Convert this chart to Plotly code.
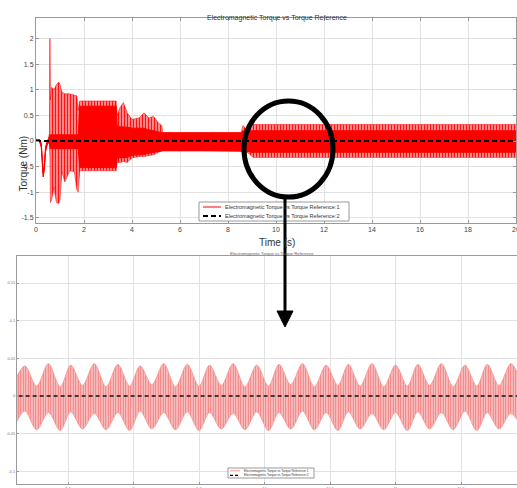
import plotly.graph_objects as go

W, H = 517, 488
def PX(x): return x / W
def PY(y): return 1 - y / H

# ---------------- data ----------------
# top panel: envelope of the electromagnetic torque signal (Nm) vs time (s)
top_t = [0.00, 0.15, 0.22, 0.27, 0.30, 0.34, 0.40, 0.46, 0.52, 0.56, 0.58, 0.60,
         0.65, 0.75, 0.85, 0.95, 1.00, 1.08, 1.20, 1.40, 1.60, 1.70, 1.76, 1.82,
         1.86, 2.50, 3.00, 3.34, 3.38, 3.50, 3.64, 3.80, 4.00, 4.30, 4.50, 4.70,
         4.90, 5.10, 5.24, 5.28, 7.00, 8.55, 8.62, 8.80, 8.95, 9.05, 14.0, 20.0]
top_upper = [0.03, 0.03, -0.05, -0.45, -0.62, -0.50, -0.12, -0.02, 0.05, 0.15, 2.00, 0.80,
             1.05, 1.00, 1.10, 1.15, 1.10, 0.95, 0.92, 0.92, 0.90, 0.88, 0.60, 0.78,
             0.78, 0.78, 0.78, 0.78, 0.50, 0.65, 0.75, 0.55, 0.42, 0.45, 0.55, 0.45,
             0.48, 0.35, 0.30, 0.16, 0.16, 0.16, 0.30, 0.22, 0.30, 0.32, 0.32, 0.32]
top_lower = [-0.01, -0.01, -0.12, -0.55, -0.70, -0.58, -0.20, -0.08, -0.03, -0.05, -0.30, -1.20,
             -1.15, -0.90, -1.20, -1.22, -1.15, -0.60, -0.80, -0.58, -0.60, -0.95, -1.00, -0.60,
             -0.58, -0.58, -0.58, -0.58, -0.42, -0.42, -0.40, -0.42, -0.33, -0.30, -0.30, -0.28,
             -0.27, -0.22, -0.20, -0.19, -0.19, -0.19, -0.25, -0.22, -0.28, -0.32, -0.32, -0.32]
core_upper = [0.03, 0.03, -0.05, -0.45, -0.62, -0.50, -0.12, -0.02, 0.05, 0.10, 0.12, 0.12,
              0.12, 0.12, 0.12, 0.12, 0.12, 0.12, 0.12, 0.12, 0.12, 0.12, 0.12, 0.65,
              0.68, 0.68, 0.68, 0.68, 0.28, 0.28, 0.28, 0.27, 0.25, 0.25, 0.25, 0.22,
              0.20, 0.18, 0.16, 0.16, 0.16, 0.16, 0.20, 0.18, 0.20, 0.20, 0.20, 0.20]
core_lower = [-0.01, -0.01, -0.12, -0.55, -0.70, -0.58, -0.20, -0.08, -0.03, -0.05, -0.15, -0.15,
              -0.15, -0.15, -0.15, -0.15, -0.15, -0.15, -0.15, -0.15, -0.15, -0.15, -0.15, -0.50,
              -0.52, -0.52, -0.52, -0.52, -0.33, -0.33, -0.33, -0.32, -0.28, -0.27, -0.26, -0.24,
              -0.22, -0.20, -0.19, -0.19, -0.19, -0.19, -0.20, -0.20, -0.22, -0.22, -0.22, -0.22]

# torque reference
ref_t = [0, 20]
ref_torque = [0, 0]

# bottom panel (zoom 8.1 s - 11.9 s): envelope of the torque ripple lobes
bot_t = [8.08, 8.17, 8.26, 8.35, 8.44, 8.52, 8.61, 8.70, 8.79, 8.88, 8.97, 9.05,
         9.14, 9.23, 9.32, 9.41, 9.50, 9.58, 9.67, 9.76, 9.85, 9.94, 10.03, 10.11,
         10.20, 10.29, 10.38, 10.47, 10.56, 10.64, 10.73, 10.82, 10.91, 11.00, 11.09, 11.17,
         11.26, 11.35, 11.44, 11.53, 11.62, 11.70, 11.79, 11.88, 11.97]
bot_upper = [0.015, 0.040, 0.013, 0.043, 0.012, 0.041, 0.014, 0.043, 0.012, 0.042, 0.013, 0.040,
             0.015, 0.043, 0.012, 0.042, 0.013, 0.041, 0.014, 0.043, 0.012, 0.041, 0.013, 0.042,
             0.015, 0.043, 0.012, 0.041, 0.014, 0.042, 0.013, 0.043, 0.012, 0.041, 0.013, 0.042,
             0.014, 0.043, 0.012, 0.041, 0.013, 0.042, 0.014, 0.043, 0.013]
bot_lower = [-0.044, -0.020, -0.045, -0.022, -0.046, -0.021, -0.044, -0.023, -0.045, -0.022, -0.046, -0.020,
             -0.044, -0.022, -0.045, -0.021, -0.046, -0.022, -0.044, -0.023, -0.045, -0.021, -0.046, -0.022,
             -0.044, -0.020, -0.045, -0.022, -0.046, -0.021, -0.044, -0.023, -0.045, -0.022, -0.046, -0.021,
             -0.044, -0.022, -0.045, -0.020, -0.046, -0.022, -0.044, -0.023, -0.045]

top_xticks = [0, 2, 4, 6, 8, 10, 12, 14, 16, 18, 20]
top_yticks = [-1.5, -1, -0.5, 0, 0.5, 1, 1.5, 2]
top_yticktext = ["-1.5", "-1", "-0.5", "0", "0.5", "1", "1.5", "2"]
bot_xticks = [8.5, 9, 9.5, 10, 10.5, 11, 11.5]
bot_xticktext = ["8.5", "9", "9.5", "10", "10.5", "11", "11.5"]
bot_yticks = [-0.1, -0.05, 0, 0.05, 0.1, 0.15]
bot_yticktext = ["-0.1", "-0.05", "0", "0.05", "0.1", "0.15"]

title_text = "Electromagnetic Torque vs Torque Reference"
legend_names = ["Electromagnetic Torque vs Torque Reference:1",
                "Electromagnetic Torque vs Torque Reference:2"]

FONT = "Liberation Sans, Arial, sans-serif"

fig = go.Figure()

# ---- top panel ----
fig.add_trace(go.Scatter(x=top_t, y=top_lower, mode="lines", line=dict(color="rgba(255,0,0,0.6)", width=0.8),
                         showlegend=False, hoverinfo="skip", xaxis="x", yaxis="y"))
fig.add_trace(go.Scatter(x=top_t, y=top_upper, mode="lines", line=dict(color="rgba(255,0,0,0.7)", width=0.8),
                         fill="tonexty",
                         fillpattern=dict(shape="|", fgcolor="rgba(255,0,0,0.9)", bgcolor="rgba(255,120,120,0.6)",
                                          size=3, solidity=0.5, fillmode="replace"),
                         showlegend=False, hoverinfo="skip", xaxis="x", yaxis="y"))
fig.add_trace(go.Scatter(x=top_t, y=core_lower, mode="lines", line=dict(color="#ff0000", width=1),
                         showlegend=False, hoverinfo="skip", xaxis="x", yaxis="y"))
fig.add_trace(go.Scatter(x=top_t, y=core_upper, mode="lines", line=dict(color="#ff0000", width=1),
                         fill="tonexty", fillcolor="#ff0000",
                         showlegend=False, hoverinfo="skip", xaxis="x", yaxis="y"))
fig.add_trace(go.Scatter(x=ref_t, y=ref_torque, mode="lines", line=dict(color="black", width=2, dash="5px,3px"),
                         showlegend=False, hoverinfo="skip", xaxis="x", yaxis="y"))

# ---- bottom panel ----
fig.add_trace(go.Scatter(x=bot_t, y=bot_lower, mode="lines", line=dict(color="#f49494", width=0.8, shape="spline", smoothing=0.9),
                         showlegend=False, hoverinfo="skip", xaxis="x2", yaxis="y2"))
fig.add_trace(go.Scatter(x=bot_t, y=bot_upper, mode="lines", line=dict(color="#f49494", width=0.8, shape="spline", smoothing=0.9),
                         fill="tonexty",
                         fillpattern=dict(shape="|", fgcolor="#f07878", bgcolor="#fbcaca",
                                          size=2.5, solidity=0.45, fillmode="replace"),
                         showlegend=False, hoverinfo="skip", xaxis="x2", yaxis="y2"))
fig.add_trace(go.Scatter(x=ref_t, y=ref_torque, mode="lines", line=dict(color="#111", width=1.5, dash="4px,3px"),
                         showlegend=False, hoverinfo="skip", xaxis="x2", yaxis="y2"))

axis_common = dict(showline=True, linecolor="#9a9a9a", linewidth=1, showgrid=True, gridcolor="#e2e2e2",
                   gridwidth=1, zeroline=False, ticks="inside", tickcolor="#9a9a9a", automargin=False,
                   ticklabeloverflow="allow")

fig.update_layout(
    width=W, height=H, margin=dict(l=0, r=0, t=0, b=0, pad=0, autoexpand=False),
    paper_bgcolor="white", plot_bgcolor="white", showlegend=False,
    font=dict(family=FONT, color="#444"),
    xaxis=dict(domain=[PX(36), PX(516)], range=[0, 20], tickvals=top_xticks, ticklen=3,
               mirror="ticks", anchor="y", tickfont=dict(size=7, color="#444"), **axis_common),
    yaxis=dict(domain=[PY(223), PY(18)], range=[-1.6, 2.4], tickvals=top_yticks, ticktext=top_yticktext,
               ticklen=3, mirror="ticks", anchor="x", tickfont=dict(size=7, color="#444"), **axis_common),
    xaxis2=dict(domain=[PX(17), 1.0], range=[8.11, 11.927], tickvals=bot_xticks, ticktext=bot_xticktext,
                ticklen=2, mirror=True, anchor="y2", tickfont=dict(size=4, color="#777"), **axis_common),
    yaxis2=dict(domain=[PY(484), PY(256)], range=[-0.117, 0.186], tickvals=bot_yticks, ticktext=bot_yticktext,
                ticklen=2, mirror=False, anchor="x2", tickfont=dict(size=4, color="#777"), **axis_common),
)

annotations = [
    dict(text=title_text, x=PX(277), y=PY(12), xref="paper", yref="paper", showarrow=False,
         font=dict(size=7, color="#333", family=FONT)),
    dict(text="Time (s)", x=PX(277), y=PY(242), xref="paper", yref="paper", showarrow=False,
         font=dict(size=10, color="#333", family=FONT)),
    dict(text="Torque (Nm)", x=PX(15), y=PY(134), xref="paper", yref="paper", showarrow=False,
         textangle=-90, font=dict(size=10, color="#333", family=FONT)),
    dict(text=title_text, x=PX(272), y=PY(253), xref="paper", yref="paper", showarrow=False,
         font=dict(size=4.2, color="#666", family=FONT)),
]

shapes = []

# ---- legend boxes (MATLAB style) ----
def add_legend(x0, x1, y0, y1, rows, line_x0, line_x1, text_x, fsize, styles):
    shapes.append(dict(type="rect", xref="paper", yref="paper", x0=PX(x0), x1=PX(x1), y0=PY(y1), y1=PY(y0),
                       fillcolor="white", line=dict(color="#808080", width=0.8), layer="above"))
    for ry, name, st in zip(rows, legend_names, styles):
        shapes.append(dict(type="line", xref="paper", yref="paper", x0=PX(line_x0), x1=PX(line_x1),
                           y0=PY(ry), y1=PY(ry), line=st, layer="above"))
        annotations.append(dict(text=name, x=PX(text_x), y=PY(ry), xref="paper", yref="paper",
                                xanchor="left", yanchor="middle", showarrow=False,
                                font=dict(size=fsize, color="#333", family=FONT)))

add_legend(199, 349, 202, 221, [207, 216], 203, 221, 223, 5.5,
           [dict(color="#ff0000", width=1), dict(color="black", width=2, dash="5px,3px")])
add_legend(228, 314, 468, 478, [470.8, 475.3], 230, 240, 242, 3.1,
           [dict(color="#f49494", width=1), dict(color="black", width=1.2, dash="3px,2px")])

# ---- circle and arrow ----
shapes += [
    dict(type="circle", xref="paper", yref="paper", x0=PX(244), x1=PX(333), y0=PY(197), y1=PY(101),
         line=dict(color="black", width=5), layer="above"),
    dict(type="line", xref="paper", yref="paper", x0=PX(285), x1=PX(285), y0=PY(197), y1=PY(313),
         line=dict(color="black", width=3), layer="above"),
    dict(type="path", xref="paper", yref="paper",
         path=f"M {PX(277)},{PY(311)} L {PX(293)},{PY(311)} L {PX(285)},{PY(327)} Z",
         fillcolor="black", line=dict(color="black", width=1), layer="above"),
]
fig.update_layout(shapes=shapes, annotations=annotations)

fig.write_html("out.html", config={"displayModeBar": False},
               post_script="document.body.style.margin='0';document.body.style.overflow='hidden';")
